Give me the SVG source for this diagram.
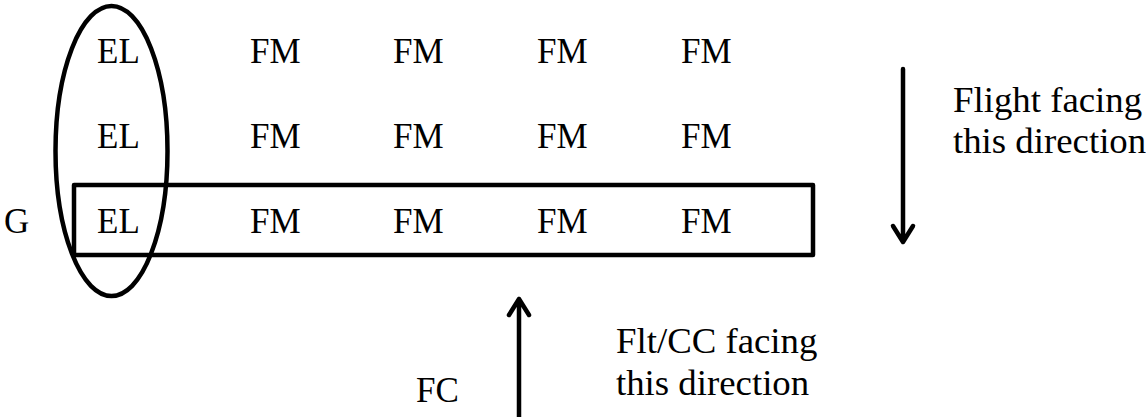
<svg xmlns="http://www.w3.org/2000/svg" width="1146" height="417" viewBox="0 0 1146 417">
<style>
text{font-family:"Liberation Serif","Times New Roman",serif;fill:#000}
.g{font-size:35px}
.l{font-size:36.8px}
.s{fill:none;stroke:#000;stroke-width:4.5;stroke-linejoin:round;stroke-linecap:round}
</style>
<rect width="1146" height="417" fill="#fff"/>
<g id="group-column">
<ellipse class="s" cx="111.5" cy="151" rx="56" ry="145"/>
</g>
<g id="group-row">
<rect class="s" x="74" y="185" width="739" height="70"/>
</g>
<g id="row1">
<text class="g" x="97" y="63">EL</text>
<text class="g" x="250" y="63">FM</text>
<text class="g" x="393" y="63">FM</text>
<text class="g" x="537" y="63">FM</text>
<text class="g" x="681" y="63">FM</text>
</g>
<g id="row2">
<text class="g" x="97" y="148">EL</text>
<text class="g" x="250" y="148">FM</text>
<text class="g" x="393" y="148">FM</text>
<text class="g" x="537" y="148">FM</text>
<text class="g" x="681" y="148">FM</text>
</g>
<g id="row3">
<text class="g" x="97" y="233">EL</text>
<text class="g" x="250" y="233">FM</text>
<text class="g" x="393" y="233">FM</text>
<text class="g" x="537" y="233">FM</text>
<text class="g" x="681" y="233">FM</text>
</g>
<g id="label-G"><text class="g" x="4" y="233">G</text></g>
<g id="label-FC"><text class="g" x="416" y="402">FC</text></g>
<g id="label-flight">
<text class="l" x="953" y="112">Flight facing</text>
<text class="l" x="953" y="153">this direction</text>
</g>
<g id="label-fltcc">
<text class="l" x="616" y="353">Flt/CC facing</text>
<text class="l" x="616" y="395">this direction</text>
</g>
<g id="connectors">
<path class="s" d="M903 69V242M893 226L903 242L913 226"/>
<path class="s" d="M519 420V299M509 315L519 299L529 315"/>
</g>
</svg>
